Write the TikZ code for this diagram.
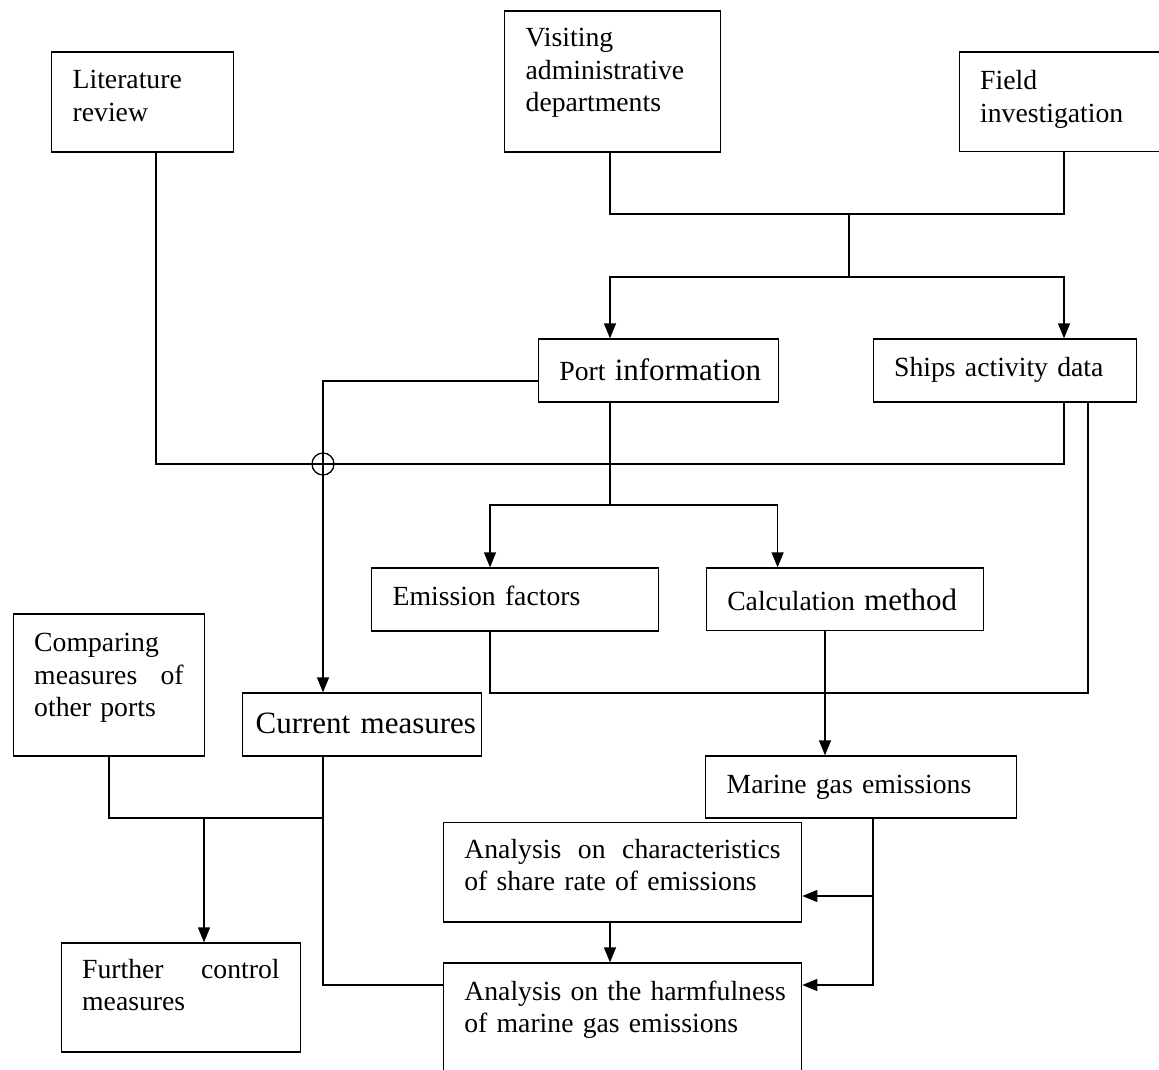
\documentclass[tikz,border=0pt]{standalone}
\usepackage{fontspec}
\setmainfont{Liberation Serif}
\usetikzlibrary{arrows.meta}
\newcommand\fsN{\fontsize{27.7pt}{32.5pt}\selectfont}
\newcommand\fsL{\fontsize{31pt}{34pt}\selectfont}
\begin{document}
\begin{tikzpicture}[x=1pt,y=-1pt,line width=1.3pt,
  box/.style={draw, line width=1.3pt, inner ysep=0pt, inner xsep=21pt, align=left, font=\fsN, anchor=base west},
  arr/.style={-{Triangle[length=15pt,width=12pt]}}]
\useasboundingbox (0,0) rectangle (1159,1070);
\clip (0,0) rectangle (1159,1070);

% boxes
\node[box, text width=140pt, text height=37pt, text depth=63pt] (lit) at (51,89) {Literature\\review};
\node[box, text width=174pt, text height=36pt, text depth=105pt] (vis) at (504,47) {Visiting\\administrative\\departments};
\node[box, text width=164.5pt, text height=38pt, text depth=61.5pt] (fld) at (958.5,90) {Field\\investigation};
\node[box, text width=198pt, text height=41pt, text depth=22pt] (port) at (537.7,380) {\mbox{Port {\fsL information}}};
\node[box, text width=221pt, text height=37.7pt, text depth=25.3pt] (ships) at (872.5,376.7) {\mbox{Ships activity data}};
\node[box, text width=245pt, text height=37pt, text depth=26pt] (emis) at (371,605) {\mbox{Emission factors}};
\node[box, text width=235pt, text height=42pt, text depth=20.7pt] (calc) at (705.6,610) {\mbox{Calculation {\fsL method}}};
\node[box, text width=149.4pt, text height=37.7pt, text depth=104.3pt] (comp) at (12.6,651.7) {Comparing\\measures\hfill of\\other ports};
\node[box, font=\fsL, inner xsep=13pt, text width=213pt, text height=40pt, text depth=23pt] (curr) at (242,733) {\mbox{Current measures}};
\node[box, text width=269pt, text height=37pt, text depth=25pt] (mar) at (705,793) {\mbox{Marine gas emissions}};
\node[box, text width=316.3pt, text height=35.3pt, text depth=64pt] (ana1) at (442.7,858) {Analysis\hfill on\hfill characteristics\\of share rate of emissions};
\node[box, text width=316.3pt, text height=37pt, text depth=100pt] (ana2) at (442.7,1000) {\mbox{Analysis on the harmfulness}\\of marine gas emissions};
\node[box, text width=197.5pt, text height=35pt, text depth=74pt] (fur) at (60.5,978) {Further\hfill control\\measures};

% crossing mark
\node[circle, draw, line width=1.3pt, minimum size=22pt, inner sep=0pt] (cross) at (323,464) {};

% junction coordinates
\coordinate (jL) at (156,464);
\coordinate (jS) at (1064,464);
\coordinate (jVF) at (849,214);
\coordinate (xP) at (610,277);
\coordinate (xS) at (1064,277);
\coordinate (xC) at (323,381);
\coordinate (jPE) at (610,505);
\coordinate (xE) at (490,505);
\coordinate (xK) at (777.6,505);
\coordinate (xE2) at (490,693);
\coordinate (xS2) at (1088,693);
\coordinate (xM) at (825,0);
\coordinate (jM1) at (873,896);
\coordinate (jM2) at (873,985);
\coordinate (xA) at (610,0);
\coordinate (jC) at (323,818);
\coordinate (xCp) at (109,818);
\coordinate (jF) at (204,818);
\coordinate (jC2) at (323,985);

% connectors
\draw (lit.south -| jL) -- (jL) -- (jS) -- (ships.south -| jS);
\draw (vis.south -| xP) |- (jVF) -| (fld.south -| xS);
\draw (jVF) -- (jVF |- xP);
\draw[arr] (jVF |- xP) -| (port.north -| xP);
\draw[arr] (jVF |- xP) -| (ships.north -| xS);
\draw[arr] (port.west |- xC) -| (curr.north -| xC);
\draw (port.south -| jPE) -- (jPE);
\draw[arr] (jPE) -| (emis.north -| xE);
\draw[arr] (jPE) -| (calc.north -| xK);
\draw (emis.south -| xE2) -- (xE2) -- (xS2) -- (ships.south -| xS2);
\draw[arr] (calc.south -| xM) -- (mar.north -| xM);
\draw[arr] (mar.south -| jM2) -- (jM2) -- (ana2.east |- jM2);
\draw[arr] (jM1) -- (ana1.east |- jM1);
\draw[arr] (ana1.south -| xA) -- (ana2.north -| xA);
\draw (comp.south -| xCp) -- (xCp) -- (jC);
\draw (curr.south -| jC) -- (jC) -- (jC2) -- (ana2.west |- jC2);
\draw[arr] (jF) -- (fur.north -| jF);
\end{tikzpicture}
\end{document}
